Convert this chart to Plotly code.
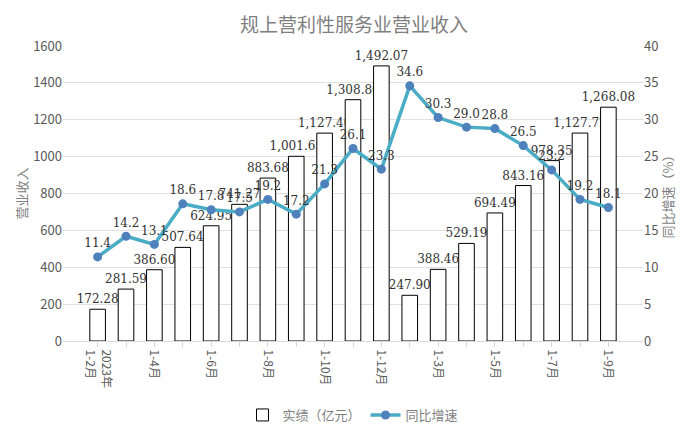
import plotly.graph_objects as go

categories = ["2023年1-2月", "1-3月", "1-4月", "1-5月", "1-6月", "1-7月", "1-8月", "1-9月",
              "1-10月", "1-11月", "1-12月", "2024年1-2月", "2024年1-3月", "2024年1-4月",
              "2024年1-5月", "2024年1-6月", "2024年1-7月", "2024年1-8月", "2024年1-9月"]
tick_labels = ["2023年<br>1-2月", "", "1-4月", "", "1-6月", "", "1-8月", "", "1-10月", "",
               "1-12月", "", "1-3月", "", "1-5月", "", "1-7月", "", "1-9月"]
revenue = [172.28, 281.59, 386.60, 507.64, 624.95, 741.27, 883.68, 1001.65, 1127.40,
           1308.80, 1492.07, 247.90, 388.46, 529.19, 694.49, 843.16, 978.35, 1127.77, 1268.08]
growth = [11.4, 14.2, 13.1, 18.6, 17.8, 17.5, 19.2, 17.2, 21.3, 26.1, 23.3,
          34.6, 30.3, 29.0, 28.8, 26.5, 23.2, 19.2, 18.1]

font = "Noto Sans CJK SC"
fig = go.Figure()
fig.add_trace(go.Bar(
    x=categories, y=revenue, name="实绩（亿元）",
    marker=dict(color="white", line=dict(color="black", width=1)),
    width=0.55,
    text=[f"{v:,.2f}" for v in revenue], textposition="outside",
    constraintext="none",
    textfont=dict(size=12, color="#333", family="DejaVu Serif"),
    cliponaxis=False,
))
fig.add_trace(go.Scatter(
    x=categories, y=growth, name="同比增速", yaxis="y2",
    mode="lines+markers+text",
    line=dict(color="#4bacc6", width=3.5),
    marker=dict(color="#4f81bd", size=9),
    text=[f"{v:.1f}" for v in growth], textposition="top center",
    textfont=dict(size=12, color="#333", family="DejaVu Serif"),
    cliponaxis=False,
))
fig.update_layout(
    width=692, height=434,
    margin=dict(l=55, r=57, t=38, b=80),
    plot_bgcolor="white", paper_bgcolor="white",
    title=dict(text="规上营利性服务业营业收入", x=0.5, y=0.975,
               font=dict(size=19, color="#7f7f7f", family=font)),
    font=dict(family=font, color="#595959"),
    showlegend=True,
    legend=dict(orientation="h", x=0.5, xanchor="center", y=-0.2, yanchor="top",
                font=dict(size=13, color="#7f7f7f")),
    bargap=0.4,
    xaxis=dict(tickmode="array", tickvals=categories, ticktext=tick_labels,
               tickangle=90, tickfont=dict(size=12, color="#595959"),
               showline=True, linecolor="#d9d9d9", ticks="outside",
               tickcolor="#d9d9d9"),
    yaxis=dict(range=[0, 1600], dtick=200, showgrid=True, gridcolor="#e0e0e0",
               tickfont=dict(size=13, color="#595959"),
               title=dict(text="营业收入", font=dict(size=13, color="#7f7f7f"), standoff=2)),
    yaxis2=dict(range=[0, 40], dtick=5, overlaying="y", side="right", showgrid=False,
                tickfont=dict(size=13, color="#595959"),
                title=dict(text="同比增速（%）", font=dict(size=13, color="#7f7f7f"), standoff=2)),
)
fig.write_html("out.html")
